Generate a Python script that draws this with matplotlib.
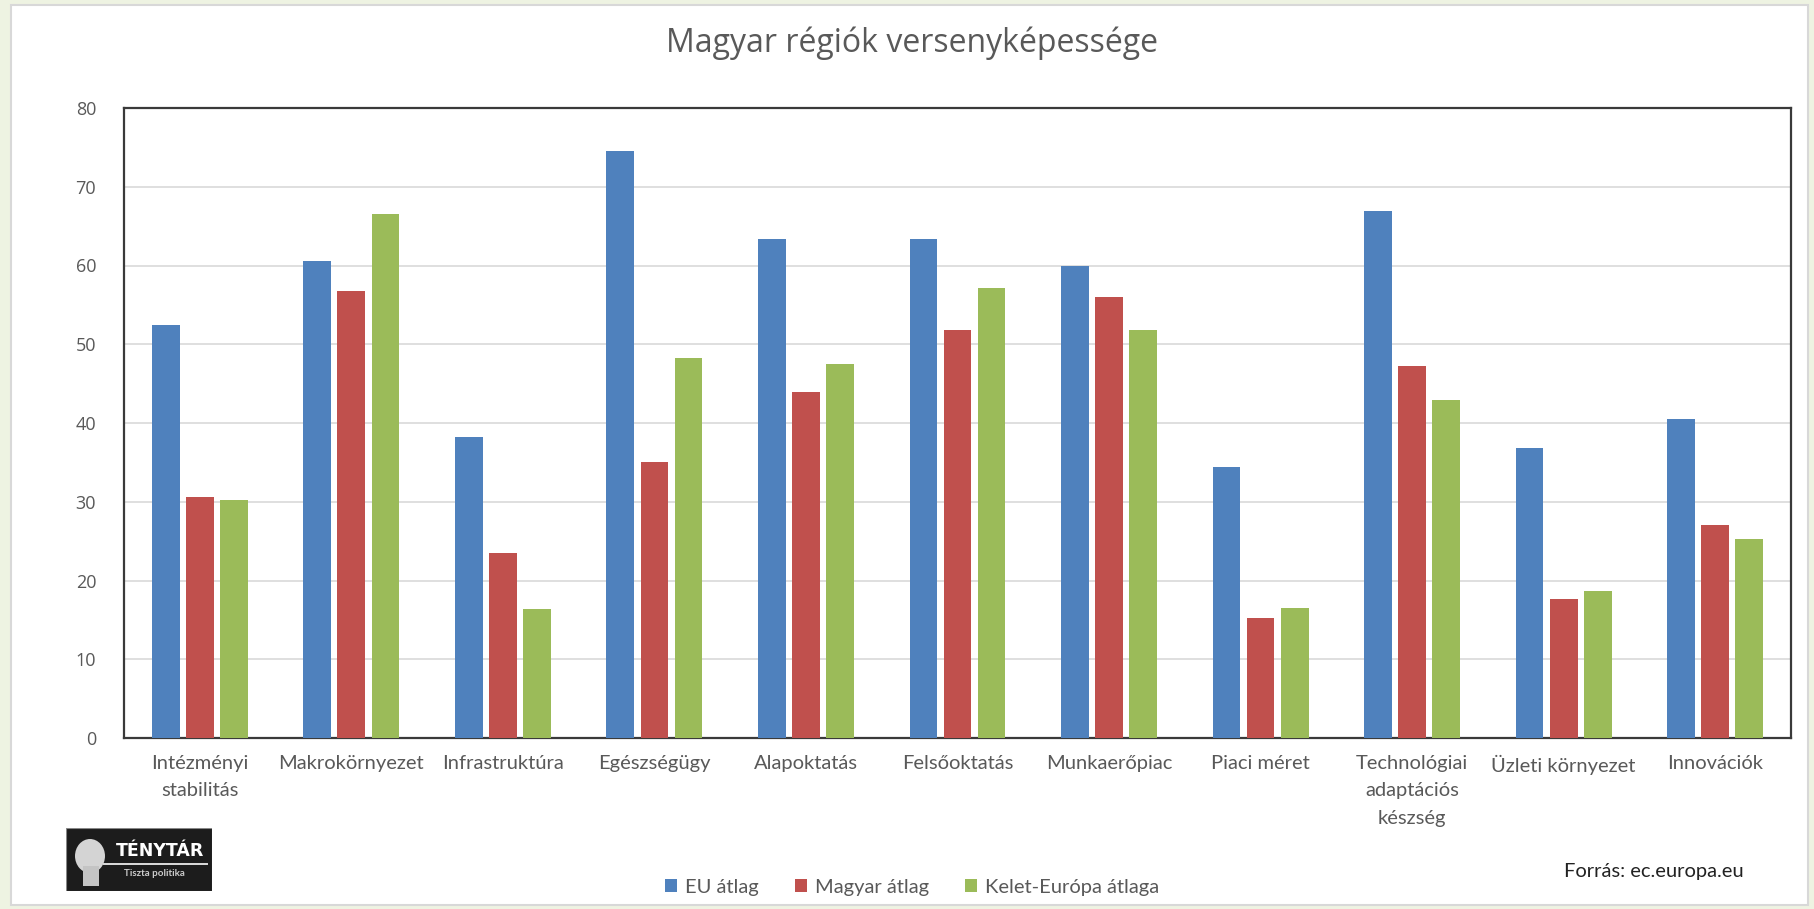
import numpy as np
import matplotlib
matplotlib.use("Agg")
import matplotlib.pyplot as plt
from matplotlib.patches import Rectangle, Ellipse

plt.rcParams['font.family'] = ['Liberation Sans Narrow', 'Lato', 'DejaVu Sans']

categories = ["Intézményi\nstabilitás", "Makrokörnyezet", "Infrastruktúra", "Egészségügy",
              "Alapoktatás", "Felsőoktatás", "Munkaerőpiac", "Piaci méret",
              "Technológiai\nadaptációs\nkészség", "Üzleti környezet", "Innovációk"]
eu_atlag = [52.5, 60.6, 38.2, 74.6, 63.4, 63.4, 60.0, 34.4, 66.9, 36.8, 40.5]
magyar_atlag = [30.6, 56.7, 23.5, 35.0, 44.0, 51.8, 56.0, 15.2, 47.3, 17.7, 27.0]
kelet_atlag = [30.2, 66.6, 16.4, 48.2, 47.5, 57.1, 51.8, 16.5, 42.9, 18.7, 25.3]
series_names = ["EU átlag", "Magyar átlag", "Kelet-Európa átlaga"]
colors = ["#4f81bd", "#c0504d", "#9bbb59"]
y_ticks = [0, 10, 20, 30, 40, 50, 60, 70, 80]

fig = plt.figure(figsize=(18.14, 9.09), dpi=100)
fig.patch.set_facecolor("#eef3e2")

# white slide panel
panel = Rectangle((11 / 1814, 1 - 905 / 909), 1797 / 1814, 900 / 909, transform=fig.transFigure,
                  facecolor="white", edgecolor="#d8d8d8", lw=1.5, zorder=-5)
fig.patches.append(panel)

ax = fig.add_axes([124 / 1814, 1 - 738 / 909, 1667 / 1814, 630 / 909])
ax.set_facecolor("white")

x = np.arange(len(categories))
width = 0.183
step = 0.225
for i, (vals, name, col) in enumerate(zip([eu_atlag, magyar_atlag, kelet_atlag], series_names, colors)):
    ax.bar(x + (i - 1) * step, vals, width, color=col, label=name, zorder=3)

ax.set_xlim(-0.5, len(categories) - 0.5)
ax.set_ylim(0, 80)
ax.set_yticks(y_ticks)
ax.grid(axis="y", color="#d9d9d9", lw=1.2, zorder=0)
ax.set_axisbelow(True)
for s in ax.spines.values():
    s.set_color("#3a3a3a")
    s.set_linewidth(1.6)
ax.tick_params(axis="both", length=0, colors="#595959", labelsize=14.5)
ax.tick_params(axis="x", pad=12)
ax.tick_params(axis="y", pad=20)
ax.set_xticks(x)
ax.set_xticklabels(categories)
for lbl in ax.get_xticklabels():
    lbl.set_linespacing(1.75)
for lbl in ax.get_yticklabels():
    lbl.set_family(["Open Sans", "DejaVu Sans"])
    lbl.set_fontsize(13)

fig.text(912 / 1814, 1 - 43 / 909, "Magyar régiók versenyképessége", ha="center", va="center",
         fontsize=23, color="#595959", family=["Open Sans", "DejaVu Sans"])

leg = ax.legend(loc="center", bbox_to_anchor=(912 / 1814, 1 - 887 / 909), bbox_transform=fig.transFigure,
                ncol=3, frameon=False, fontsize=14.5, handlelength=0.6, handleheight=0.6,
                handletextpad=0.4, columnspacing=1.8, labelcolor="#595959")

fig.text(1744 / 1814, 1 - 872 / 909, "Forrás: ec.europa.eu", ha="right", va="center",
         fontsize=14.5, color="#222222")

# logo box
logo = fig.add_axes([66 / 1814, 1 - 891 / 909, 146 / 1814, 63 / 909])
logo.set_xlim(0, 146)
logo.set_ylim(0, 63)
logo.axis("off")
logo.add_patch(Rectangle((0, 0), 146, 63, facecolor="#1c1c1c", edgecolor="#888888", lw=0.8))
logo.add_patch(Ellipse((24, 35), 30, 34, facecolor="#d4d4d4", edgecolor="none"))
logo.add_patch(Rectangle((17, 5), 16, 20, facecolor="#c4c4c4", edgecolor="none"))
logo.plot([38, 141], [27, 27], color="#dddddd", lw=1.4)
logo.text(94, 40, "TÉNYTÁR", ha="center", va="center", color="white", fontsize=12.5, fontweight="bold",
          family=["DejaVu Sans"])
logo.text(88, 17, "Tiszta politika", ha="center", va="center", color="#cccccc", fontsize=7,
          fontweight="bold")

fig.savefig("out.png", dpi=100, facecolor=fig.get_facecolor())
